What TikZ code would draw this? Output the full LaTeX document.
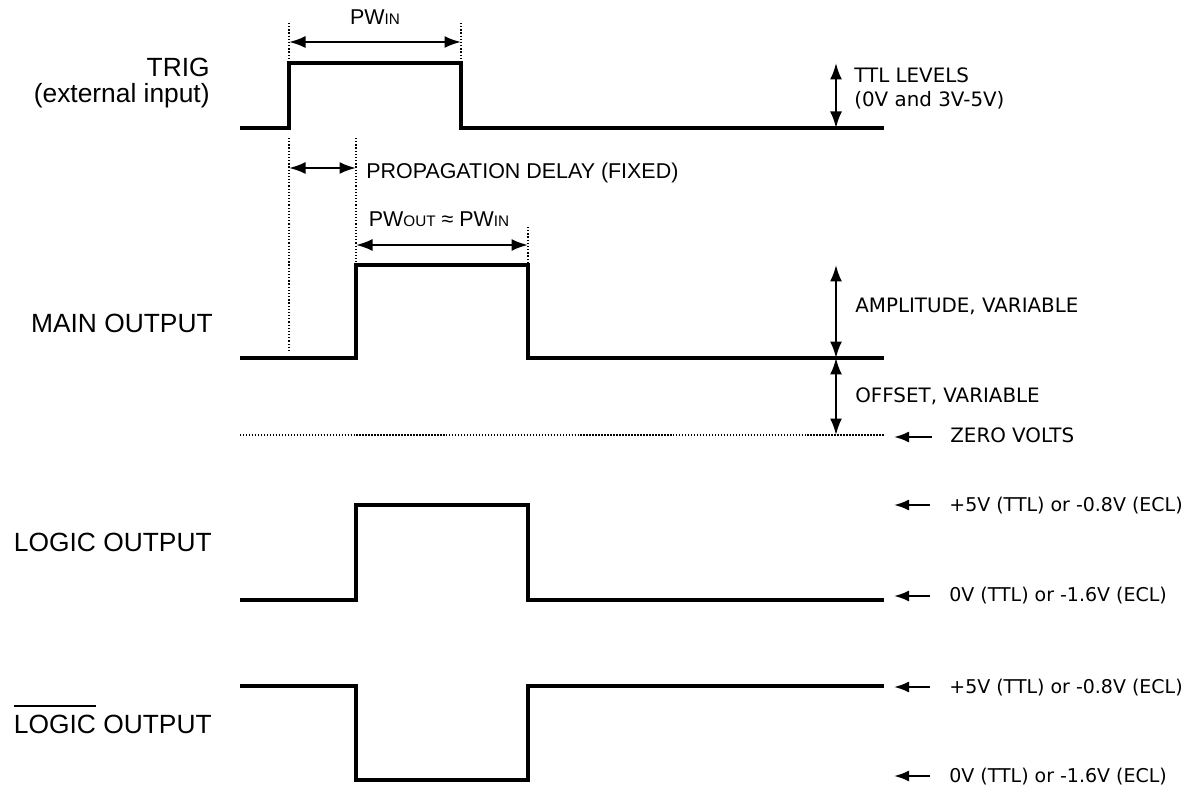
\documentclass[tikz,border=0pt]{standalone}
\usepackage{fontspec}
\setmainfont{Liberation Sans}
\newfontfamily\dv{DejaVu Sans}
\usetikzlibrary{arrows.meta}
\newcommand{\barover}[1]{\leavevmode\vbox{\hrule height 1pt\kern 4.2pt\hbox{#1}}}
\newcommand{\sm}[1]{{\fontsize{8.7}{9}\selectfont #1}}
\begin{document}
\begin{tikzpicture}[x=0.02cm,y=-0.02cm,
  wave/.style={line width=1.9pt, line join=miter},
  dimarrow/.style={line width=1.2pt, {Latex[length=3.3mm,width=2.4mm]}-{Latex[length=3.3mm,width=2.4mm]}},
  ptr/.style={line width=1.2pt, -{Latex[length=3mm,width=2.2mm]}},
  guide/.style={line width=0.75pt, dash pattern=on 0.7pt off 1.1pt},
  zeroline/.style={line width=1pt, dash pattern=on 0.8pt off 0.9pt},
  lbl/.style={anchor=base east, inner sep=0pt, font=\fontsize{15}{17}\selectfont},
  rlbl/.style={anchor=base west, inner sep=0pt, font=\dv\fontsize{10.8}{13}\selectfont},
  rlblb/.style={anchor=base west, inner sep=0pt, font=\dv\fontsize{11.3}{13}\selectfont},
  mlbl/.style={inner sep=0pt, font=\fontsize{12.2}{14}\selectfont}]
\useasboundingbox (0,0) rectangle (1190,793);

% ---- left labels
\node[lbl] (trig) at (210,77) {TRIG};
\node[lbl] (ext) at (210,103) {(external input)};
\node[lbl] (main) at (213,333) {MAIN OUTPUT};
\node[lbl] (logic) at (212,552) {LOGIC OUTPUT};
\node[lbl] (nlogic) at (212,733) {\barover{LOGIC} OUTPUT};

% ---- TRIG waveform
\coordinate (t0) at (240,128); \coordinate (t1) at (289,128);
\coordinate (t2) at (289,63);  \coordinate (t3) at (461,63);
\coordinate (t4) at (461,128); \coordinate (t5) at (884,128);
\draw[wave] (t0) -- (t1) -- (t2) -- (t3) -- (t4) -- (t5);

% ---- MAIN OUTPUT waveform
\coordinate (m0) at (240,358); \coordinate (m1) at (356,358);
\coordinate (m2) at (356,265); \coordinate (m3) at (528,265);
\coordinate (m4) at (528,358); \coordinate (m5) at (884,358);
\draw[wave] (m0) -- (m1) -- (m2) -- (m3) -- (m4) -- (m5);

% ---- LOGIC OUTPUT waveform
\coordinate (l0) at (240,600); \coordinate (l1) at (356,600);
\coordinate (l2) at (356,505); \coordinate (l3) at (528,505);
\coordinate (l4) at (528,600); \coordinate (l5) at (884,600);
\draw[wave] (l0) -- (l1) -- (l2) -- (l3) -- (l4) -- (l5);

% ---- LOGIC-bar waveform
\coordinate (n0) at (240,686); \coordinate (n1) at (356,686);
\coordinate (n2) at (356,780); \coordinate (n3) at (528,780);
\coordinate (n4) at (528,686); \coordinate (n5) at (884,686);
\draw[wave] (n0) -- (n1) -- (n2) -- (n3) -- (n4) -- (n5);

% ---- zero volts line
\coordinate (z0) at (240,435); \coordinate (z1) at (884,435);
\draw[zeroline] (z0) -- (z1);

% ---- guide lines
\coordinate (g1a) at (289,23);  \coordinate (g1b) at (289,61);
\coordinate (g2a) at (461,23);  \coordinate (g2b) at (461,61);
\coordinate (g3a) at (289,138); \coordinate (g3b) at (289,352);
\coordinate (g4a) at (356,138); \coordinate (g4b) at (356,262);
\coordinate (g5a) at (528,227); \coordinate (g5b) at (528,262);
\draw[guide] (g1a) -- (g1b);
\draw[guide] (g2a) -- (g2b);
\draw[guide] (g3a) -- (g3b);
\draw[guide] (g4a) -- (g4b);
\draw[guide] (g5a) -- (g5b);

% ---- PW_IN
\coordinate (pwa) at (289,42); \coordinate (pwb) at (461,42);
\draw[dimarrow] (pwa) -- (pwb);
\node[mlbl, anchor=base] (pwin) at (375,25) {PW\sm{IN}};

% ---- propagation delay
\coordinate (pda) at (289,168); \coordinate (pdb) at (356,168);
\draw[dimarrow] (pda) -- (pdb);
\node[mlbl, anchor=base west] (prop) at (366,179) {PROPAGATION DELAY (FIXED)};

% ---- PW_OUT
\coordinate (poa) at (356,245); \coordinate (pob) at (528,245);
\draw[dimarrow] (poa) -- (pob);
\node[mlbl, anchor=base] (pwout) at (439,227) {PW\sm{OUT} ≈ PW\sm{IN}};

% ---- TTL levels
\coordinate (ta) at (836,63); \coordinate (tb) at (836,128);
\draw[dimarrow] (ta) -- (tb);
\node[rlblb] (ttl1) at (854,83) {TTL LEVELS};
\node[rlblb] (ttl2) at (854,107) {(0V and 3V-5V)};

% ---- amplitude / offset
\coordinate (aa) at (836,265); \coordinate (ab) at (836,358); \coordinate (ac) at (836,435);
\draw[dimarrow] (aa) -- (ab);
\draw[dimarrow] (ab) -- (ac);
\node[rlblb] (amp) at (855,313) {AMPLITUDE, VARIABLE};
\node[rlblb] (off) at (855,403) {OFFSET, VARIABLE};

% ---- right-hand level labels
\node[rlblb] (zero) at (950,443) {ZERO VOLTS};
\coordinate (zs) at (932,437); \coordinate (ze) at (894,437);
\draw[ptr] (zs) -- (ze);

\node[rlbl] (lh) at (949,512) {+5V (TTL) or -0.8V (ECL)};
\coordinate (lhs) at (930,505); \coordinate (lhe) at (894,505);
\draw[ptr] (lhs) -- (lhe);

\node[rlbl] (ll) at (949,602) {0V (TTL) or -1.6V (ECL)};
\coordinate (lls) at (930,596); \coordinate (lle) at (894,596);
\draw[ptr] (lls) -- (lle);

\node[rlbl] (nh) at (949,693) {+5V (TTL) or -0.8V (ECL)};
\coordinate (nhs) at (930,687); \coordinate (nhe) at (894,687);
\draw[ptr] (nhs) -- (nhe);

\node[rlbl] (nl) at (949,782) {0V (TTL) or -1.6V (ECL)};
\coordinate (nls) at (930,776); \coordinate (nle) at (894,776);
\draw[ptr] (nls) -- (nle);
\end{tikzpicture}
\end{document}
